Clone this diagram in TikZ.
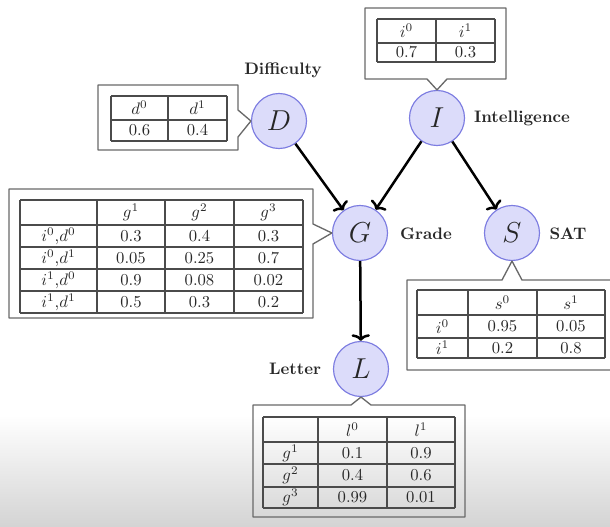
\documentclass[tikz,border=0pt]{standalone}
\usetikzlibrary{arrows.meta}
\definecolor{nodefill}{RGB}{220,220,250}
\definecolor{nodedraw}{RGB}{125,125,225}
\definecolor{gridc}{RGB}{75,75,75}
\definecolor{boxc}{RGB}{105,105,105}
\definecolor{txtc}{RGB}{40,40,40}
\definecolor{ringo}{RGB}{215,150,50}
\definecolor{ringr}{RGB}{190,50,80}
\tikzset{
  var/.style={circle, minimum size=33pt, inner sep=0pt, fill=nodefill, draw=nodedraw, line width=0.7pt, font=\LARGE, text=black!85},
  lbl/.style={font=\bfseries, text=txtc, inner sep=0pt},
  arr/.style={line width=1.5pt, -{To[length=4pt,width=11pt]}},
  callout/.style={draw=boxc, line width=0.8pt, line join=round},
  gridl/.style={draw=gridc, line width=0.8pt},
  cellt/.style={inner sep=0pt, text=txtc}
}
\begin{document}
\begin{tikzpicture}[x=0.6pt,y=-0.6pt]
\useasboundingbox (0,0) rectangle (610,527);
% bottom background shading and emblem
\shade[top color=white, bottom color=black!17] (0,415) rectangle (610,527);
\draw[ringo, line width=3.5pt] (40,548) ++(165:40) arc (165:95:40);
\draw[ringr, line width=3.5pt] (40,548) ++(85:40) arc (85:15:40);

% variable nodes
\node[var] (D) at (279,121) {$D$};
\node[var] (I) at (437,118) {$I$};
\node[var] (G) at (360,233) {$G$};
\node[var] (S) at (512,233) {$S$};
\node[var] (L) at (361,369) {$L$};

% labels
\node[lbl] (lD) at (283,70) {Difficulty};
\node[lbl] (lI) at (522,118) {Intelligence};
\node[lbl] (lG) at (426,234) {Grade};
\node[lbl] (lS) at (568,234) {SAT};
\node[lbl] (lL) at (295,369) {Letter};

% edges
\draw[arr] (D) -- (G);
\draw[arr] (I) -- (G);
\draw[arr] (I) -- (S);
\draw[arr] (G) -- (L);

% callout boxes
\draw[callout] (365,8) -- (506,8) -- (506,79) -- (447,79) -- (I.north) -- (427,79) -- (365,79) -- cycle;
\draw[callout] (98,85) -- (238,85) -- (238,110) -- (D.west) -- (238,137) -- (238,150) -- (98,150) -- cycle;
\draw[callout] (9,189) -- (313,189) -- (313,224) -- (G.west) -- (313,244) -- (313,318) -- (9,318) -- cycle;
\draw[callout] (407,280) -- (502,280) -- (S.south) -- (522,280) -- (614,280) -- (614,370) -- (407,370) -- cycle;
\draw[callout] (253,405) -- (351,405) -- (L.south) -- (371,405) -- (465,405) -- (465,517) -- (253,517) -- cycle;

% table I
\foreach \y in {19,43,62} \draw[gridl] (377,\y) -- (495,\y);
\foreach \x in {377,436,495} \draw[gridl] (\x,19) -- (\x,62);
\node[cellt] (ti1) at (406.5,31) {$i^0$};
\node[cellt] (ti2) at (465.5,31) {$i^1$};
\node[cellt] (ti3) at (406.5,52.5) {0.7};
\node[cellt] (ti4) at (465.5,52.5) {0.3};

% table D
\foreach \y in {96,120,141} \draw[gridl] (111,\y) -- (227,\y);
\foreach \x in {111,168,227} \draw[gridl] (\x,96) -- (\x,141);
\node[cellt] (td1) at (139.5,108) {$d^0$};
\node[cellt] (td2) at (197.5,108) {$d^1$};
\node[cellt] (td3) at (139.5,130.5) {0.6};
\node[cellt] (td4) at (197.5,130.5) {0.4};

% table G
\foreach \y in {200,225,247,269,291,313} \draw[gridl] (20,\y) -- (303,\y);
\foreach \x in {20,97,165,234,303} \draw[gridl] (\x,200) -- (\x,313);
\node[cellt] (tg01) at (131,212.5) {$g^1$};
\node[cellt] (tg02) at (199.5,212.5) {$g^2$};
\node[cellt] (tg03) at (268.5,212.5) {$g^3$};
\node[cellt] (tg10) at (58.5,236) {$i^0$,$d^0$};
\node[cellt] (tg11) at (131,236) {0.3};
\node[cellt] (tg12) at (199.5,236) {0.4};
\node[cellt] (tg13) at (268.5,236) {0.3};
\node[cellt] (tg20) at (58.5,258) {$i^0$,$d^1$};
\node[cellt] (tg21) at (131,258) {0.05};
\node[cellt] (tg22) at (199.5,258) {0.25};
\node[cellt] (tg23) at (268.5,258) {0.7};
\node[cellt] (tg30) at (58.5,280) {$i^1$,$d^0$};
\node[cellt] (tg31) at (131,280) {0.9};
\node[cellt] (tg32) at (199.5,280) {0.08};
\node[cellt] (tg33) at (268.5,280) {0.02};
\node[cellt] (tg40) at (58.5,302) {$i^1$,$d^1$};
\node[cellt] (tg41) at (131,302) {0.5};
\node[cellt] (tg42) at (199.5,302) {0.3};
\node[cellt] (tg43) at (268.5,302) {0.2};

% table S
\foreach \y in {290,315,338,358} \draw[gridl] (417,\y) -- (605,\y);
\foreach \x in {417,468,537,605} \draw[gridl] (\x,290) -- (\x,358);
\node[cellt] (ts01) at (502.5,302.5) {$s^0$};
\node[cellt] (ts02) at (571,302.5) {$s^1$};
\node[cellt] (ts10) at (442.5,326.5) {$i^0$};
\node[cellt] (ts11) at (502.5,326.5) {0.95};
\node[cellt] (ts12) at (571,326.5) {0.05};
\node[cellt] (ts20) at (442.5,348) {$i^1$};
\node[cellt] (ts21) at (502.5,348) {0.2};
\node[cellt] (ts22) at (571,348) {0.8};

% table L
\foreach \y in {417,442,464,487,508} \draw[gridl] (263,\y) -- (455,\y);
\foreach \x in {263,318,387,455} \draw[gridl] (\x,417) -- (\x,508);
\node[cellt] (tl01) at (352.5,429.5) {$l^0$};
\node[cellt] (tl02) at (421,429.5) {$l^1$};
\node[cellt] (tl10) at (290.5,453) {$g^1$};
\node[cellt] (tl11) at (352.5,453) {0.1};
\node[cellt] (tl12) at (421,453) {0.9};
\node[cellt] (tl20) at (290.5,475.5) {$g^2$};
\node[cellt] (tl21) at (352.5,475.5) {0.4};
\node[cellt] (tl22) at (421,475.5) {0.6};
\node[cellt] (tl30) at (290.5,497.5) {$g^3$};
\node[cellt] (tl31) at (352.5,497.5) {0.99};
\node[cellt] (tl32) at (421,497.5) {0.01};
\end{tikzpicture}
\end{document}
